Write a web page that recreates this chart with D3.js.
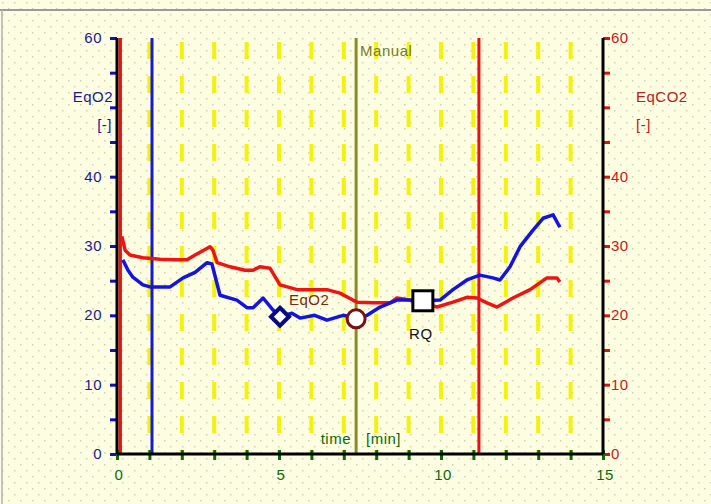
<!DOCTYPE html>
<html>
<head>
<meta charset="utf-8">
<script src="https://cdn.jsdelivr.net/npm/d3@7"></script>
<style>
	body { margin: 0; padding: 0; background: #fefee8; }
	svg { display: block; }
	text { font-family: "Liberation Sans", Arial, sans-serif; font-size: 15px; letter-spacing: 0.5px; }
</style>
</head>
<body>
<div id="chart"></div>
<script>
// EqO2 (blue) - time [min], value [-]
const eqo2Time = [0.18, 0.34, 0.49, 0.80, 1.02, 1.64, 2.04, 2.41, 2.78, 2.93, 3.18, 3.70, 4.01, 4.20, 4.51, 4.81, 5.03, 5.40, 5.65, 6.10, 6.48, 6.98, 7.38, 7.72, 8.12, 8.64, 9.04, 9.44, 9.97, 10.37, 10.80, 11.20, 11.60, 11.82, 12.13, 12.44, 12.84, 13.15, 13.46, 13.67];
const eqo2Value = [28.0, 26.5, 25.5, 24.4, 24.1, 24.1, 25.4, 26.2, 27.6, 27.4, 22.9, 22.2, 21.1, 21.1, 22.5, 20.8, 19.8, 20.3, 19.6, 20.0, 19.3, 20.0, 19.6, 20.0, 21.2, 22.2, 22.2, 22.1, 22.2, 23.7, 25.1, 25.8, 25.4, 25.1, 27.0, 29.9, 32.3, 34.0, 34.5, 32.7];

// EqCO2 (red)
const eqco2Time = [0.15, 0.25, 0.40, 0.80, 1.33, 1.79, 2.16, 2.41, 2.87, 2.96, 3.09, 3.49, 3.95, 4.20, 4.41, 4.72, 5.03, 5.56, 6.48, 6.88, 7.28, 7.41, 7.90, 8.43, 8.64, 9.04, 9.88, 10.37, 10.80, 11.11, 11.42, 11.73, 12.22, 12.75, 13.27, 13.58, 13.67];
const eqco2Value = [31.4, 29.4, 28.7, 28.3, 28.1, 28.0, 28.0, 28.7, 29.9, 29.4, 27.6, 27.0, 26.5, 26.5, 27.0, 26.8, 24.4, 23.7, 23.7, 23.2, 22.2, 21.9, 21.8, 21.8, 22.5, 22.2, 21.2, 21.9, 22.6, 22.5, 21.8, 21.2, 22.5, 23.7, 25.4, 25.4, 24.8];

// event lines
const eventTimes = [0.1, 1.08, 7.38, 11.17];
const eventKinds = ['red', 'blue', 'manual', 'red'];

// markers
const markerNames = ['EqO2', 'VT', 'RQ'];
const markerTimes = [5.03, 7.38, 9.44];
const markerValues = [19.8, 19.5, 22.1];

// ticks
const xTickLabels = [0, 5, 10, 15];
const yTickLabels = [0, 10, 20, 30, 40, 60];

const options = {
	w: 711, h: 504,
	x0: 117, x1: 603,
	y0: 454, y1: 38
};

const svg = d3.select('#chart').append('svg')
	.attr('width', options.w)
	.attr('height', options.h);

// dotted background
const pat = svg.append('defs').append('pattern')
	.attr('id', 'dots').attr('width', 12).attr('height', 12)
	.attr('patternUnits', 'userSpaceOnUse');
pat.append('rect').attr('width', 12).attr('height', 12).attr('fill', '#fdfde2');
pat.append('rect').attr('x', 2).attr('y', 2).attr('width', 1.5).attr('height', 1.5).attr('fill', '#d0d0b8');
pat.append('rect').attr('x', 8).attr('y', 8).attr('width', 1.5).attr('height', 1.5).attr('fill', '#d0d0b8');
svg.append('rect').attr('width', options.w).attr('height', options.h).attr('fill', 'url(#dots)');

// window border
svg.append('line').attr('x1', 0).attr('x2', options.w).attr('y1', 10).attr('y2', 10)
	.attr('stroke', '#9a9a9a').attr('stroke-width', 2);
svg.append('line').attr('x1', 2).attr('x2', 2).attr('y1', 10).attr('y2', options.h)
	.attr('stroke', '#b0b0b0').attr('stroke-width', 1.5);

const x = d3.scaleLinear().domain([0, 15]).range([options.x0, options.x1]);
const y = d3.scaleLinear().domain([0, 60]).range([options.y0, options.y1]);

// yellow dashed grid
svg.append('g').selectAll('line')
	.data(d3.range(1, 15))
	.enter().append('line')
	.attr('x1', d => x(d)).attr('x2', d => x(d))
	.attr('y1', y(60) + 4).attr('y2', y(0))
	.attr('stroke', '#f2f20a')
	.attr('stroke-width', 4)
	.attr('stroke-dasharray', '17,17');

// event lines
const eventColor = { red: '#ee1010', blue: '#1818d8', manual: '#8a8a2a' };
svg.append('g').selectAll('line')
	.data(eventTimes)
	.enter().append('line')
	.attr('x1', d => x(d)).attr('x2', d => x(d))
	.attr('y1', y(60)).attr('y2', y(0))
	.attr('stroke', (d, i) => eventColor[eventKinds[i]])
	.attr('stroke-width', 3);

svg.append('text')
	.attr('x', x(eventTimes[2]) + 4).attr('y', 56)
	.attr('fill', '#7a7a20')
	.text('Manual');

// axes
const yLeft = d3.axisLeft(y).tickValues(d3.range(0, 61, 5)).tickSize(7).tickFormat('');
const yRight = d3.axisRight(y).tickValues(d3.range(0, 61, 5)).tickSize(7).tickFormat('');

const gl = svg.append('g').attr('transform', `translate(${options.x0},0)`).call(yLeft);
gl.select('.domain').remove();
gl.selectAll('.tick line').attr('stroke', '#1010c0').attr('stroke-width', 3);

const gr = svg.append('g').attr('transform', `translate(${options.x1},0)`).call(yRight);
gr.select('.domain').remove();
gr.selectAll('.tick line').attr('stroke', '#e01010').attr('stroke-width', 3);

const gx = svg.append('g').attr('transform', `translate(0,${options.y0})`)
	.call(d3.axisBottom(x).tickValues(d3.range(0, 16)).tickSize(6).tickFormat(''));
gx.select('.domain').remove();
gx.selectAll('.tick line').attr('y1', -4).attr('stroke', '#0a6a0a').attr('stroke-width', 3);

// axis lines
svg.append('line').attr('x1', options.x0).attr('x2', options.x0).attr('y1', y(60)).attr('y2', y(0))
	.attr('stroke', '#000').attr('stroke-width', 3);
svg.append('line').attr('x1', x(eventTimes[0])).attr('x2', x(eventTimes[0])).attr('y1', y(60)).attr('y2', y(0))
	.attr('stroke', '#ee1010').attr('stroke-width', 3);
svg.append('line').attr('x1', options.x1).attr('x2', options.x1).attr('y1', y(60)).attr('y2', y(0))
	.attr('stroke', '#000').attr('stroke-width', 3);
svg.append('line').attr('x1', options.x0).attr('x2', options.x1).attr('y1', y(0)).attr('y2', y(0))
	.attr('stroke', '#000').attr('stroke-width', 3);

// tick labels
svg.append('g').selectAll('text').data(yTickLabels).enter().append('text')
	.attr('x', options.x0 - 15).attr('y', d => y(d) + 5)
	.attr('text-anchor', 'end').attr('fill', '#1a1a90').text(d => d);
svg.append('g').selectAll('text').data(yTickLabels).enter().append('text')
	.attr('x', options.x1 + 8).attr('y', d => y(d) + 5)
	.attr('text-anchor', 'start').attr('fill', '#c81818').text(d => d);
svg.append('g').selectAll('text').data(xTickLabels).enter().append('text')
	.attr('x', d => x(d) + 2).attr('y', options.y0 + 26)
	.attr('text-anchor', 'middle').attr('fill', '#0a6a0a').text(d => d);

// axis titles
svg.append('text').attr('x', 113).attr('y', 102).attr('text-anchor', 'end').attr('fill', '#1a1a90').text('EqO2');
svg.append('text').attr('x', 112).attr('y', 130).attr('text-anchor', 'end').attr('fill', '#1a1a90').text('[-]');
svg.append('text').attr('x', 636).attr('y', 102).attr('fill', '#b82020').text('EqCO2');
svg.append('text').attr('x', 636).attr('y', 130).attr('fill', '#b82020').text('[-]');
svg.append('text').attr('x', 351).attr('y', 444).attr('text-anchor', 'end').attr('fill', '#0a6a0a').text('time');
svg.append('text').attr('x', 366).attr('y', 444).attr('fill', '#0a6a0a').text('[min]');

// series
const line = d3.line().x(d => x(d[0])).y(d => y(d[1])).curve(d3.curveLinear);
svg.append('path')
	.datum(eqco2Time.map((t, i) => [t, eqco2Value[i]]))
	.attr('d', line).attr('fill', 'none')
	.attr('stroke', '#ee1414').attr('stroke-width', 3.5).attr('stroke-linejoin', 'round');
svg.append('path')
	.datum(eqo2Time.map((t, i) => [t, eqo2Value[i]]))
	.attr('d', line).attr('fill', 'none')
	.attr('stroke', '#1414e0').attr('stroke-width', 3.5).attr('stroke-linejoin', 'round');

// markers
const mx = i => x(markerTimes[i]), my = i => y(markerValues[i]);
svg.append('text').attr('x', mx(0) + 9).attr('y', my(0) - 12).attr('fill', '#7a2810').text(markerNames[0]);
svg.append('path')
	.attr('d', `M${mx(0)},${my(0) - 9}L${mx(0) + 9},${my(0)}L${mx(0)},${my(0) + 9}L${mx(0) - 9},${my(0)}Z`)
	.attr('fill', '#fff').attr('stroke', '#0a0a80').attr('stroke-width', 4);
svg.append('circle').attr('cx', mx(1)).attr('cy', my(1)).attr('r', 9)
	.attr('fill', '#fff').attr('stroke', '#7a1010').attr('stroke-width', 3);
svg.append('rect').attr('x', mx(2) - 10).attr('y', my(2) - 10).attr('width', 20).attr('height', 20)
	.attr('fill', '#fff').attr('stroke', '#000').attr('stroke-width', 3);
svg.append('text').attr('x', mx(2) - 2).attr('y', my(2) + 38).attr('text-anchor', 'middle')
	.attr('fill', '#111').text(markerNames[2]);
</script>
</body>
</html>
